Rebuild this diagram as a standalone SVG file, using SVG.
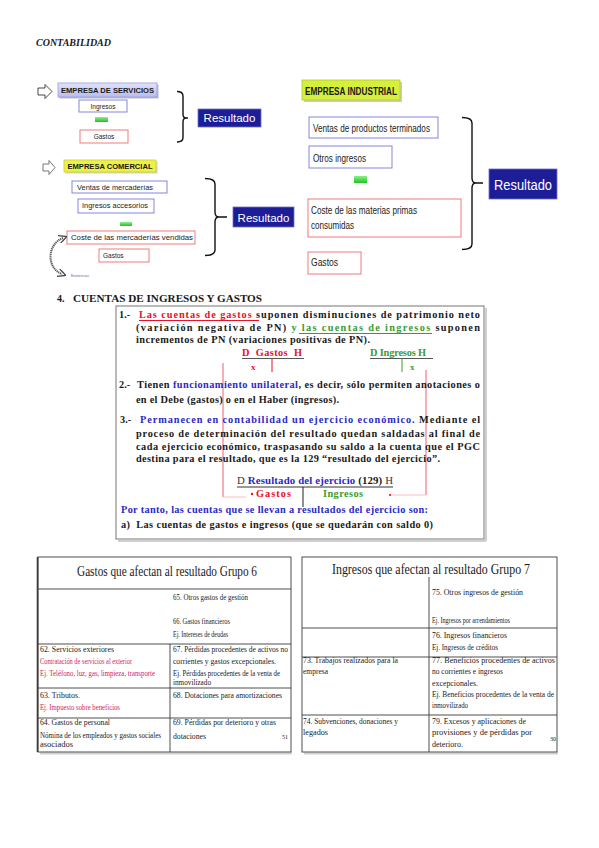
<svg xmlns="http://www.w3.org/2000/svg" width="599" height="848" viewBox="0 0 599 848">
<defs>
<style>
.s{font-family:"Liberation Sans",Arial,sans-serif;fill:#1a1a1a}
.bx{fill:#fff;stroke:#8585dd;stroke-width:1}
.rx{fill:#fff;stroke:#f07a7a;stroke-width:1}
.res{fill:#1d1d98;stroke:#7070c8;stroke-width:0.8}
.rt{font-family:"Liberation Sans",Arial,sans-serif;fill:#fff;text-anchor:middle}
.brace{fill:none;stroke:#111;stroke-width:1.4}
.b{font-family:"Liberation Serif","Times New Roman",serif;font-weight:bold;font-size:10.3px;fill:#1a1a1a}
.red{fill:#e8102a}
.grn{fill:#3a9c2c}
.blu{fill:#2a2ac4}
.tb{font-family:"Liberation Serif","Times New Roman",serif;fill:#1a1a1a;font-size:9px}
.ej{font-size:7.6px}
.ttl{font-size:14.5px}
.pg{font-size:6px}
.nm{font-size:8px}
.mag{fill:#d2205c}
.grid{stroke:#3a3a3a;stroke-width:0.9;fill:none}
.sh{fill:#bdbdbd}
</style>
<linearGradient id="gg" x1="0" y1="0" x2="0" y2="1"><stop offset="0" stop-color="#8cf08c"/><stop offset="1" stop-color="#1ec41e"/></linearGradient>
<linearGradient id="lav" x1="0" y1="0" x2="0" y2="1"><stop offset="0" stop-color="#e2e4fa"/><stop offset="1" stop-color="#b8bcec"/></linearGradient>
<marker id="hk" viewBox="0 0 6 6" refX="3" refY="3" markerWidth="4" markerHeight="4" orient="auto-start-reverse"><path d="M0,0 L6,3 L0,6" fill="none" stroke="#444" stroke-width="1"/></marker>
</defs>
<rect width="599" height="848" fill="#fff"/>

<text x="36" y="46" font-family="Liberation Serif,Times New Roman,serif" font-weight="bold" font-style="italic" font-size="10" fill="#1a1a1a">CONTABILIDAD</text>

<!-- top-left block -->
<g id="empresa-servicios">
<rect class="sh" x="59.5" y="84.5" width="99" height="14"/>
<rect x="58" y="83" width="99" height="14" fill="url(#lav)" stroke="#9a9ae0" stroke-width="0.8"/>
<text class="s" x="107.5" y="93.3" text-anchor="middle" font-size="7" font-weight="bold" textLength="93" lengthAdjust="spacingAndGlyphs">EMPRESA DE SERVICIOS</text>
</g>
<g id="ingresos-1">
<rect class="bx" x="79" y="100" width="48" height="12"/>
<text class="s" x="103" y="109" text-anchor="middle" font-size="6.5">Ingresos</text>
</g>
<g id="green-1"><rect x="95" y="117" width="13" height="5" fill="url(#gg)"/></g>
<g id="gastos-1">
<rect class="rx" x="80" y="130" width="48" height="13"/>
<text class="s" x="104" y="139" text-anchor="middle" font-size="6.5">Gastos</text>
</g>
<g id="resultado-1">
<rect class="res" x="198" y="109" width="63" height="18"/>
<text class="rt" x="229.5" y="122" font-size="11.5">Resultado</text>
</g>

<g id="empresa-comercial">
<rect x="65.5" y="161.5" width="92" height="12" fill="#d8d8b0"/>
<rect x="64" y="160" width="92" height="12" fill="#eef04a" stroke="#c6d030" stroke-width="0.8"/>
<text class="s" x="110" y="168.5" text-anchor="middle" font-size="6.8" font-weight="bold" textLength="85" lengthAdjust="spacingAndGlyphs">EMPRESA COMERCIAL</text>
</g>
<g id="ventas-mercaderias">
<rect class="bx" x="72" y="181" width="95" height="12"/>
<text class="s" x="77" y="189.5" font-size="6.5" textLength="76" lengthAdjust="spacingAndGlyphs">Ventas de mercaderías</text>
</g>
<g id="ingresos-accesorios">
<rect class="bx" x="78" y="199" width="76" height="14"/>
<text class="s" x="82" y="208.3" font-size="6.5" textLength="66" lengthAdjust="spacingAndGlyphs">Ingresos accesorios</text>
</g>
<g id="green-2"><rect x="120" y="222" width="12" height="4" fill="url(#gg)"/></g>
<g id="coste-mercaderias">
<rect class="rx" x="67" y="231" width="128" height="13"/>
<text class="s" x="71" y="240" font-size="6.5" textLength="122" lengthAdjust="spacingAndGlyphs">Coste de las mercaderías vendidas</text>
</g>
<g id="gastos-2">
<rect class="rx" x="99" y="249" width="50" height="13"/>
<text class="s" x="103" y="258" font-size="6.5">Gastos</text>
</g>
<g id="resultado-2">
<rect class="res" x="233" y="207" width="61" height="20"/>
<text class="rt" x="263.5" y="221.5" font-size="11.5">Resultado</text>
</g>
<text x="71" y="277" font-family="Liberation Sans,Arial,sans-serif" font-size="3.5" fill="#5a6aa0">Existencias</text>

<!-- top-right block -->
<g id="empresa-industrial">
<rect x="304" y="82" width="98" height="20" fill="#cfcfa8"/>
<rect x="302" y="80" width="98" height="20" fill="#d6ee3c" stroke="#b4c828" stroke-width="0.8"/>
<text class="s" x="305" y="94.5" font-size="10.5" font-weight="bold" textLength="92" lengthAdjust="spacingAndGlyphs">EMPRESA INDUSTRIAL</text>
</g>
<g id="ventas-productos">
<rect class="bx" x="309" y="117" width="129" height="21"/>
<text class="s" x="313" y="132" font-size="10.5" textLength="117" lengthAdjust="spacingAndGlyphs">Ventas de productos terminados</text>
</g>
<g id="otros-ingresos">
<rect class="bx" x="309" y="146" width="83" height="22"/>
<text class="s" x="313" y="162" font-size="10.5" textLength="53" lengthAdjust="spacingAndGlyphs">Otros ingresos</text>
</g>
<g id="green-3"><rect x="354" y="176" width="13" height="7" fill="url(#gg)"/></g>
<g id="coste-materias">
<rect class="rx" x="308" y="199" width="153" height="38"/>
<text class="s" x="311" y="214" font-size="10.5" textLength="106" lengthAdjust="spacingAndGlyphs">Coste de las materias primas</text>
<text class="s" x="311" y="229" font-size="10.5" textLength="43" lengthAdjust="spacingAndGlyphs">consumidas</text>
</g>
<g id="gastos-3">
<rect class="rx" x="308" y="252" width="53" height="22"/>
<text class="s" x="311" y="266" font-size="10.5" textLength="27" lengthAdjust="spacingAndGlyphs">Gastos</text>
</g>
<g id="resultado-3">
<rect class="res" x="489" y="169" width="68" height="30"/>
<text class="rt" x="523" y="190" font-size="15.5" textLength="58" lengthAdjust="spacingAndGlyphs">Resultado</text>
</g>

<g id="connectors">
<path d="M38,88 L45,88 L45,84.5 L52,91.5 L45,98.5 L45,95 L38,95 Z" fill="#fff" stroke="#333" stroke-width="0.9"/>
<path d="M43,164 L49,164 L49,160.5 L55,167.5 L49,174.5 L49,171 L43,171 Z" fill="#fff" stroke="#666" stroke-width="0.9"/>
<path class="brace" d="M177,91.5 Q183,91.5 183,96 L183,114 Q183,118 186,118 L188,118 M186,118 Q183,118 183,122 L183,137.5 Q183,142 177,142"/>
<path class="brace" d="M205,178.5 Q215,178.5 215,184 L215,212 Q215,217 219,217 L227,217 M219,217 Q215,217 215,222 L215,250 Q215,255.5 205,255.5"/>
<path class="brace" d="M462,117.5 Q472,117.5 472,123 L472,178 Q472,183 476,183 L483,183 M476,183 Q472,183 472,188 L472,244 Q472,249.5 462,249.5"/>
<path d="M63,238 C47,244 46,268 62,274" fill="none" stroke="#555" stroke-width="2" stroke-dasharray="1.2 0.7" marker-start="url(#hk)" marker-end="url(#hk)"/>
</g>

<!-- section 4 -->
<text x="57" y="302" font-family="Liberation Serif,Times New Roman,serif" font-weight="bold" font-size="10" fill="#1a1a1a">4.</text>
<text x="73" y="302" font-family="Liberation Serif,Times New Roman,serif" font-weight="bold" font-size="10" fill="#1a1a1a" textLength="189" lengthAdjust="spacingAndGlyphs">CUENTAS DE INGRESOS Y GASTOS</text>

<g id="cuentas-box">
<line x1="486" y1="308" x2="486" y2="541" stroke="#cfcfcf" stroke-width="2"/>
<line x1="118" y1="541" x2="486" y2="541" stroke="#cfcfcf" stroke-width="2"/>
<rect x="116" y="306" width="368" height="233" fill="none" stroke="#8c8c8c" stroke-width="1.2"/>
<g stroke="#f06070" stroke-width="1">
<line x1="223" y1="363" x2="223" y2="497"/>
<line x1="426" y1="370" x2="426" y2="495"/>
</g>
<g stroke="#f4c0c4" stroke-width="1">
<line x1="223" y1="497" x2="246" y2="497"/>
<line x1="390" y1="495" x2="426" y2="495"/>
</g>
<circle cx="252" cy="494" r="1.2" fill="#e8102a"/>
<circle cx="390" cy="495" r="1.1" fill="#e8102a"/>

<text class="b" x="119" y="318">1.-</text>
<text class="b" x="139" y="318" textLength="341" lengthAdjust="spacing"><tspan class="red">Las cuentas de gastos </tspan>suponen disminuciones de patrimonio neto</text>
<line x1="139" y1="320.5" x2="259" y2="320.5" stroke="#e8102a" stroke-width="1"/>
<text class="b" x="136" y="331" textLength="344" lengthAdjust="spacing">(variación negativa de PN) <tspan class="grn">y las cuentas de  ingresos</tspan> suponen</text>
<line x1="299" y1="333.5" x2="432" y2="333.5" stroke="#3a9c2c" stroke-width="1"/>
<text class="b" x="136" y="343" textLength="234" lengthAdjust="spacing">incrementos de PN (variaciones positivas de PN).</text>

<text class="b red" x="242" y="356" textLength="60" lengthAdjust="spacing" xml:space="preserve">D  Gastos  H</text>
<text class="b grn" x="370" y="356" textLength="56" lengthAdjust="spacing">D Ingresos H</text>
<line x1="242" y1="358.5" x2="304" y2="358.5" stroke="#555" stroke-width="1"/>
<line x1="370" y1="358.5" x2="433" y2="358.5" stroke="#555" stroke-width="1"/>
<line x1="272" y1="358.5" x2="272" y2="372" stroke="#e8102a" stroke-width="1"/>
<line x1="402" y1="358.5" x2="402" y2="372" stroke="#3a9c2c" stroke-width="1"/>
<text class="b red" x="251" y="370" style="font-size:9px">x</text>
<text class="b grn" x="410" y="370" style="font-size:9px">x</text>

<text class="b" x="119" y="388">2.-</text>
<text class="b" x="137" y="388" textLength="343" lengthAdjust="spacing">Tienen <tspan class="blu">funcionamiento unilateral</tspan>, es decir, sólo permiten anotaciones o</text>
<text class="b" x="136" y="403" textLength="203" lengthAdjust="spacing">en el Debe (gastos) o en el Haber (ingresos).</text>

<text class="b" x="120" y="423">3.-</text>
<text class="b" x="140" y="423" textLength="340" lengthAdjust="spacing"><tspan class="blu">Permanecen en contabilidad un ejercicio económico.</tspan> Mediante el</text>
<text class="b" x="136" y="437" textLength="344" lengthAdjust="spacing">proceso de determinación del resultado quedan saldadas al final de</text>
<text class="b" x="136" y="449.5" textLength="344" lengthAdjust="spacing">cada ejercicio económico, traspasando su saldo a la cuenta que el PGC</text>
<text class="b" x="136" y="462" textLength="304" lengthAdjust="spacing">destina para el resultado, que es la 129 “resultado del ejercicio”.</text>

<text class="b" x="237" y="484" style="font-size:10.8px" textLength="156" lengthAdjust="spacing"><tspan style="font-weight:normal;fill:#333">D </tspan><tspan class="blu">Resultado del ejercicio</tspan> (129) <tspan style="font-weight:normal;fill:#333">H</tspan></text>
<line x1="237" y1="487" x2="393" y2="487" stroke="#333" stroke-width="1"/>
<line x1="303" y1="487" x2="303" y2="507" stroke="#222" stroke-width="1"/>
<text class="b red" x="256" y="497" textLength="35" lengthAdjust="spacing">Gastos</text>
<text class="b grn" x="323" y="497" textLength="40" lengthAdjust="spacing">Ingresos</text>

<text class="b blu" x="121" y="513" textLength="307" lengthAdjust="spacing">Por tanto, las cuentas que se llevan a resultados del ejercicio son:</text>
<text class="b" x="121" y="528" textLength="312" lengthAdjust="spacing" xml:space="preserve">a)  Las cuentas de gastos e ingresos (que se quedarán con saldo 0)</text>
</g>

<!-- left table -->
<g id="tabla-grupo-6">
<line x1="40" y1="753.5" x2="292" y2="753.5" stroke="#cfcfcf" stroke-width="2"/>
<rect class="grid" x="38" y="557" width="253" height="195"/>
<line x1="37.5" y1="557" x2="37.5" y2="752" stroke="#3a3a3a" stroke-width="1.6"/>
<g class="grid">
<line x1="38" y1="589" x2="291" y2="589"/>
<line x1="38" y1="644" x2="291" y2="644"/>
<line x1="38" y1="688" x2="291" y2="688"/>
<line x1="38" y1="718" x2="291" y2="718"/>
<line x1="170" y1="644" x2="170" y2="752"/>
</g>
<text class="tb ttl" x="77" y="576" textLength="180" lengthAdjust="spacingAndGlyphs">Gastos que afectan al resultado Grupo 6</text>
<text class="tb" x="173" y="600" textLength="75" lengthAdjust="spacingAndGlyphs">65. Otros gastos de gestión</text>
<text class="tb" x="173" y="624" textLength="57" lengthAdjust="spacingAndGlyphs">66. Gastos financieros</text>
<text class="tb ej" x="173" y="637" textLength="55" lengthAdjust="spacingAndGlyphs">Ej. Intereses de deudas</text>
<text class="tb" x="40" y="652" textLength="74" lengthAdjust="spacingAndGlyphs">62. Servicios exteriores</text>
<text class="tb" x="173" y="652" textLength="115" lengthAdjust="spacingAndGlyphs">67. Pérdidas procedentes de activos no</text>
<text class="tb ej mag" x="40" y="664" textLength="92" lengthAdjust="spacingAndGlyphs">Contratación de servicios al exterior</text>
<text class="tb" x="173" y="663.5" textLength="103" lengthAdjust="spacingAndGlyphs">corrientes y gastos excepcionales.</text>
<text class="tb ej mag" x="40" y="675.5" textLength="115" lengthAdjust="spacingAndGlyphs">Ej. Teléfono, luz, gas, limpieza, transporte</text>
<text class="tb ej" x="173" y="675.5" textLength="107" lengthAdjust="spacingAndGlyphs">Ej. Pérdidas procedentes de la venta de</text>
<text class="tb ej" x="173" y="685" textLength="38" lengthAdjust="spacingAndGlyphs">inmovilizado</text>
<text class="tb" x="40" y="698" textLength="40" lengthAdjust="spacingAndGlyphs">63. Tributos.</text>
<text class="tb" x="173" y="698" textLength="109" lengthAdjust="spacingAndGlyphs">68. Dotaciones para amortizaciones</text>
<text class="tb ej mag" x="40" y="710" textLength="80" lengthAdjust="spacingAndGlyphs">Ej. Impuesto sobre beneficios</text>
<text class="tb" x="40" y="725" textLength="70" lengthAdjust="spacingAndGlyphs">64. Gastos de personal</text>
<text class="tb" x="173" y="724.5" textLength="103" lengthAdjust="spacingAndGlyphs">69. Pérdidas por deterioro y otras</text>
<text class="tb nm red" x="40" y="737.5" textLength="121" lengthAdjust="spacingAndGlyphs">Nómina de los empleados y gastos sociales</text>
<text class="tb nm red" x="40" y="747" textLength="33" lengthAdjust="spacingAndGlyphs">asociados</text>
<text class="tb" x="173" y="739" textLength="33" lengthAdjust="spacingAndGlyphs">dotaciones</text>
<text class="tb pg" x="282" y="739">51</text>
</g>

<!-- right table -->
<g id="tabla-grupo-7">
<line x1="304" y1="753.5" x2="558" y2="753.5" stroke="#cfcfcf" stroke-width="2"/>
<rect class="grid" x="302" y="557" width="255" height="195"/>
<g class="grid">
<line x1="302" y1="628" x2="557" y2="628"/>
<line x1="302" y1="657" x2="557" y2="657"/>
<line x1="302" y1="715" x2="557" y2="715"/>
<line x1="429" y1="577" x2="429" y2="752"/>
</g>
<text class="tb ttl" x="332" y="574" textLength="198" lengthAdjust="spacingAndGlyphs">Ingresos que afectan al resultado Grupo 7</text>
<text class="tb" x="432" y="595" textLength="91" lengthAdjust="spacingAndGlyphs">75. Otros ingresos de gestión</text>
<text class="tb ej" x="432" y="623" textLength="78" lengthAdjust="spacingAndGlyphs">Ej. Ingresos por arrendamientos</text>
<text class="tb" x="432" y="638" textLength="75" lengthAdjust="spacingAndGlyphs">76. Ingresos financieros</text>
<text class="tb ej" x="432" y="650" textLength="66" lengthAdjust="spacingAndGlyphs">Ej. Ingresos de créditos</text>
<text class="tb" x="303" y="662.5" textLength="95" lengthAdjust="spacingAndGlyphs">73. Trabajos realizados para la</text>
<text class="tb" x="432" y="662.5" textLength="123" lengthAdjust="spacingAndGlyphs">77. Beneficios procedentes de activos</text>
<text class="tb" x="303" y="674" textLength="25" lengthAdjust="spacingAndGlyphs">empresa</text>
<text class="tb" x="432" y="674" textLength="71" lengthAdjust="spacingAndGlyphs">no corrientes e ingresos</text>
<text class="tb" x="432" y="685.5" textLength="46" lengthAdjust="spacingAndGlyphs">excepcionales.</text>
<text class="tb ej" x="432" y="696.5" textLength="122" lengthAdjust="spacingAndGlyphs">Ej. Beneficios procedentes de la venta de</text>
<text class="tb ej" x="432" y="707.5" textLength="36" lengthAdjust="spacingAndGlyphs">inmovilizado</text>
<text class="tb" x="303" y="723.5" textLength="95" lengthAdjust="spacingAndGlyphs">74. Subvenciones, donaciones y</text>
<text class="tb" x="303" y="735" textLength="25" lengthAdjust="spacingAndGlyphs">legados</text>
<text class="tb" x="432" y="723.5" textLength="94" lengthAdjust="spacingAndGlyphs">79. Excesos y aplicaciones de</text>
<text class="tb" x="432" y="735" textLength="100" lengthAdjust="spacingAndGlyphs">provisiones y de pérdidas por</text>
<text class="tb" x="432" y="746.5" textLength="31" lengthAdjust="spacingAndGlyphs">deterioro.</text>
<text class="tb pg" x="550" y="741">30</text>
</g>
</svg>
